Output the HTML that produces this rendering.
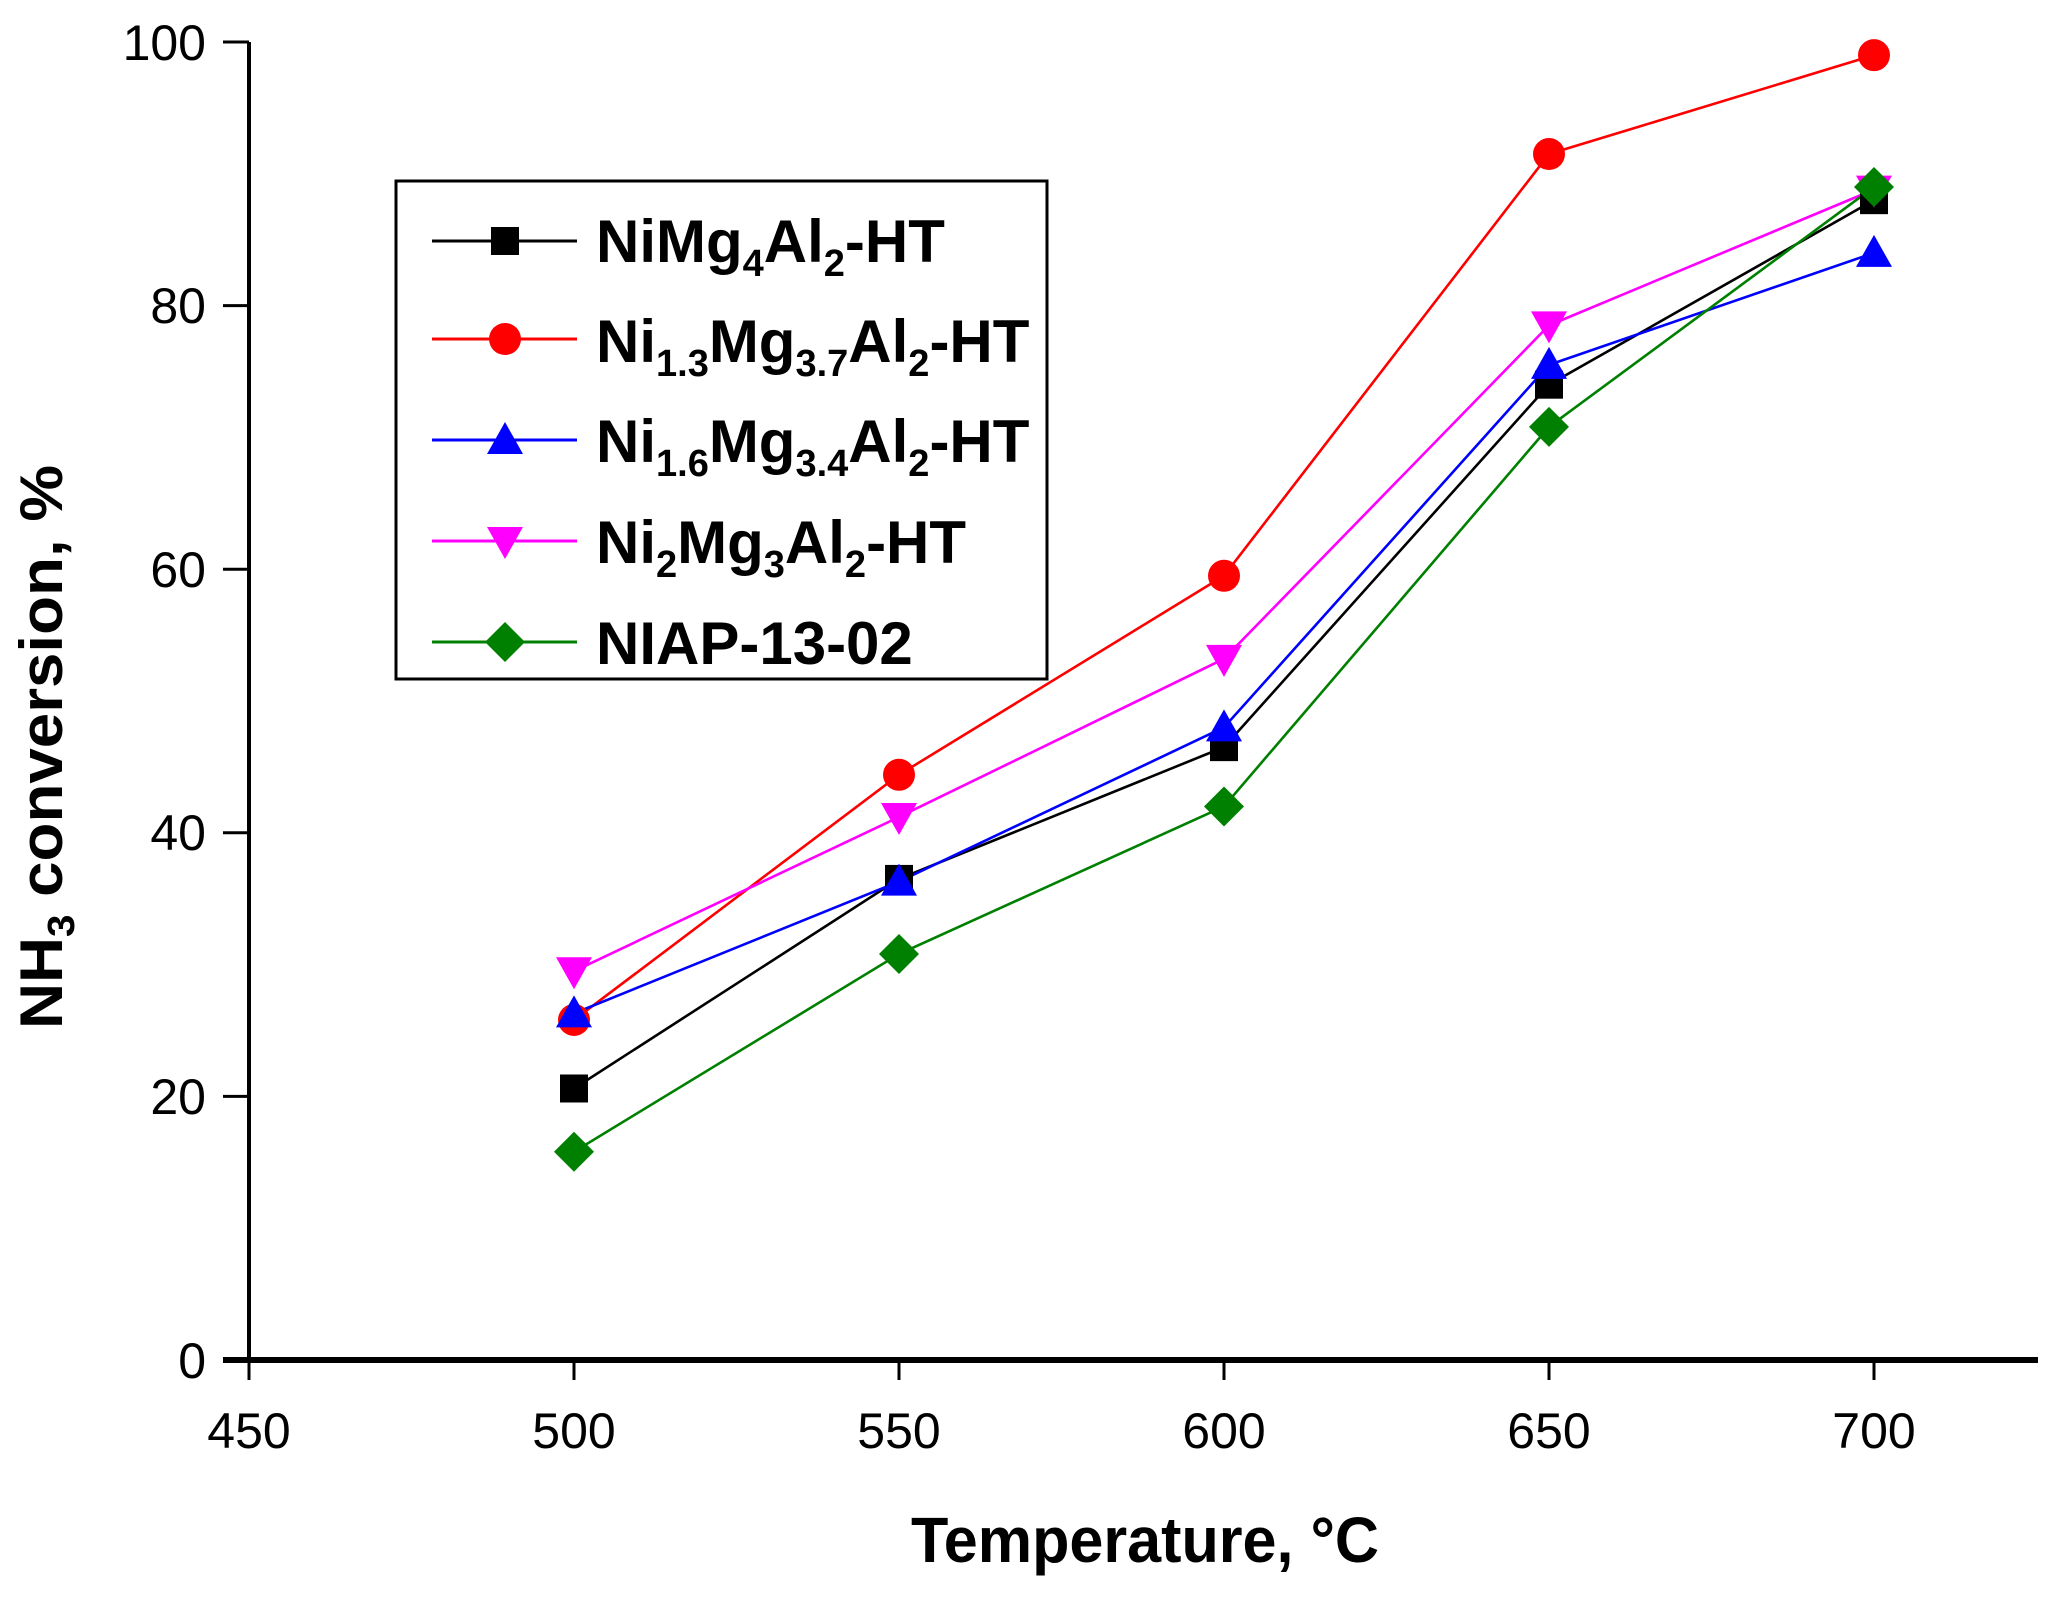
<!DOCTYPE html>
<html><head><meta charset="utf-8"><style>html,body{margin:0;padding:0;background:#fff}svg{display:block}</style></head>
<body>
<svg id="s" width="2055" height="1597" xmlns="http://www.w3.org/2000/svg" font-family="Liberation Sans, Arial, sans-serif">
<rect width="2055" height="1597" fill="#fff"/>
<g id="g"></g>
<!-- axes -->
<line x1="249" y1="42" x2="249" y2="1360" stroke="#000" stroke-width="4"/>
<line x1="223" y1="1360" x2="2038" y2="1360" stroke="#000" stroke-width="6"/>
<g font-size="50" text-anchor="middle" fill="#000">
<text x="249" y="1448">450</text><text x="574" y="1448">500</text><text x="899" y="1448">550</text>
<text x="1224" y="1448">600</text><text x="1549" y="1448">650</text><text x="1874" y="1448">700</text>
</g>
<g font-size="50" text-anchor="end" fill="#000">
<text x="206" y="1378">0</text><text x="206" y="1114">20</text><text x="206" y="850">40</text>
<text x="206" y="587">60</text><text x="206" y="323">80</text><text x="206" y="60">100</text>
</g>
<text x="911" y="1562" font-size="64" font-weight="bold" textLength="468" lengthAdjust="spacingAndGlyphs">Temperature, °C</text>
<text transform="translate(62,1029) rotate(-90)" font-size="60" font-weight="bold" textLength="564" lengthAdjust="spacingAndGlyphs">NH<tspan font-size="38" dy="12">3</tspan><tspan dy="-12"> conversion, %</tspan></text>
<!-- legend -->
<rect x="396" y="181" width="651" height="498" fill="#fff" stroke="#000" stroke-width="3"/>
<g id="leg"></g>
<g font-size="60" font-weight="bold" fill="#000">
<text x="596" y="262">NiMg<tspan font-size="38" dy="14">4</tspan><tspan dy="-14">Al</tspan><tspan font-size="38" dy="14">2</tspan><tspan dy="-14">-HT</tspan></text>
<text x="596" y="362">Ni<tspan font-size="38" dy="14">1.3</tspan><tspan dy="-14">Mg</tspan><tspan font-size="38" dy="14">3.7</tspan><tspan dy="-14">Al</tspan><tspan font-size="38" dy="14">2</tspan><tspan dy="-14">-HT</tspan></text>
<text x="596" y="462">Ni<tspan font-size="38" dy="14">1.6</tspan><tspan dy="-14">Mg</tspan><tspan font-size="38" dy="14">3.4</tspan><tspan dy="-14">Al</tspan><tspan font-size="38" dy="14">2</tspan><tspan dy="-14">-HT</tspan></text>
<text x="596" y="563">Ni<tspan font-size="38" dy="14">2</tspan><tspan dy="-14">Mg</tspan><tspan font-size="38" dy="14">3</tspan><tspan dy="-14">Al</tspan><tspan font-size="38" dy="14">2</tspan><tspan dy="-14">-HT</tspan></text>
<text x="596" y="664">NIAP-13-02</text>
</g>
</svg>
<script>
var NS="http://www.w3.org/2000/svg";
function el(p,t,a){var e=document.createElementNS(NS,t);for(var k in a)e.setAttribute(k,a[k]);p.appendChild(e);return e;}
var g=document.getElementById('g'),leg=document.getElementById('leg');
// ticks
for(var i=0;i<6;i++){var x=249+i*325;el(g,'line',{x1:x,y1:1360,x2:x,y2:1380,stroke:'#000','stroke-width':3});}
for(var i=0;i<6;i++){var y=1360-i*263.6;el(g,'line',{x1:223,y1:y,x2:249,y2:y,stroke:'#000','stroke-width':3});}
function X(t){return 574+(t-500)*6.5;}function Y(v){return 1360-v*13.18;}
function marker(p,type,x,y,c){
 if(type=='s')el(p,'rect',{x:x-14,y:y-14,width:28,height:28,fill:c});
 else if(type=='c')el(p,'ellipse',{cx:x,cy:y,rx:16,ry:16,fill:c});
 else if(type=='u')el(p,'polygon',{points:(x)+','+(y-18)+' '+(x-18)+','+(y+14)+' '+(x+18)+','+(y+14),fill:c});
 else if(type=='d')el(p,'polygon',{points:(x)+','+(y+18)+' '+(x-18)+','+(y-14)+' '+(x+18)+','+(y-14),fill:c});
 else el(p,'polygon',{points:x+','+(y-20)+' '+(x+20)+','+y+' '+x+','+(y+20)+' '+(x-20)+','+y,fill:c});
}
var T=[500,550,600,650,700];
var S=[['#000','s',[20.6,36.5,46.5,74,88]],['#f00','c',[25.8,44.4,59.5,91.5,99]],['#00f','u',[26.3,36.3,48,75.5,84]],['#f0f','d',[29.5,41.2,53.2,78.5,88.8]],['#008000','m',[15.8,30.8,42,70.8,89]]];
var ly=[241,339,440,541,642];
S.forEach(function(s,k){
 var pts=T.map(function(t,i){return X(t)+','+Y(s[2][i]);}).join(' ');
 el(g,'polyline',{points:pts,fill:'none',stroke:s[0],'stroke-width':2.6});
 el(leg,'line',{x1:432,y1:ly[k],x2:577,y2:ly[k],stroke:s[0],'stroke-width':3});
 marker(leg,s[1],505,ly[k],s[0]);
});
S.forEach(function(s){T.forEach(function(t,i){marker(g,s[1],X(t),Y(s[2][i]),s[0]);});});
</script>
</body></html>
